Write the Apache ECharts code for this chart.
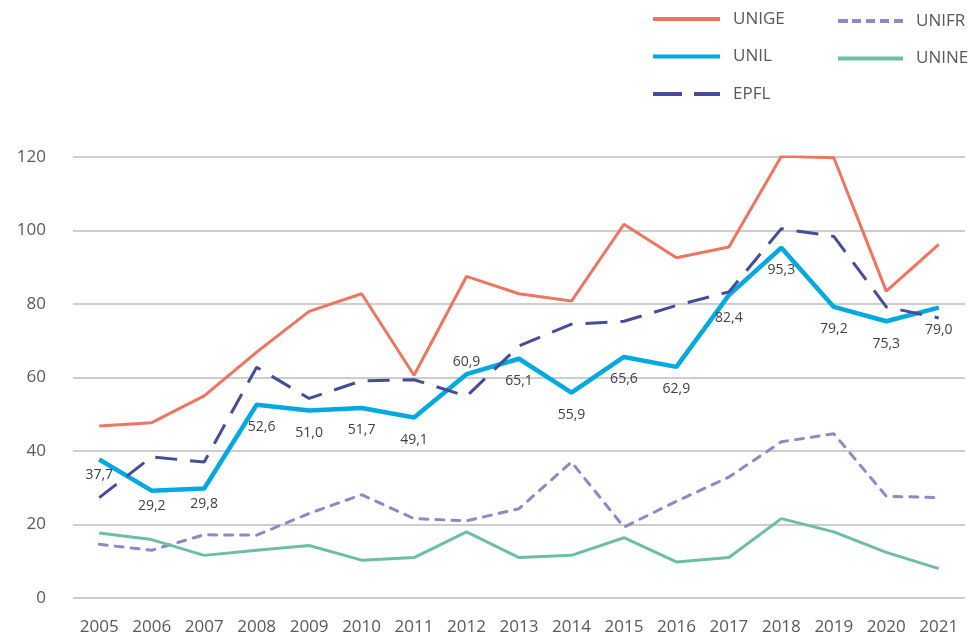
<!DOCTYPE html>
<html>
<head>
<meta charset="utf-8">
<script src="https://cdn.jsdelivr.net/npm/echarts@6/dist/echarts.min.js"></script>
<style>
html,body{margin:0;padding:0;background:#fff;}
#chart{width:971px;height:636px;}
</style>
</head>
<body>
<div id="chart"></div>
<script>
const years = ['2005','2006','2007','2008','2009','2010','2011','2012','2013','2014','2015','2016','2017','2018','2019','2020','2021'];
const yTicks = [0, 20, 40, 60, 80, 100, 120];
const unige = [46.8, 47.7, 55.0, 66.9, 78.0, 82.8, 60.6, 87.5, 82.8, 80.8, 101.7, 92.6, 95.5, 120.2, 119.8, 83.5, 96.2];
const unil  = [37.7, 29.2, 29.8, 52.6, 51.0, 51.7, 49.1, 60.9, 65.1, 55.9, 65.6, 62.9, 82.4, 95.3, 79.2, 75.3, 79.0];
const epfl  = [27.3, 38.4, 37.0, 62.8, 54.3, 59.1, 59.4, 54.9, 68.6, 74.5, 75.3, 79.6, 83.3, 100.5, 98.4, 79.2, 76.2];
const unifr = [14.6, 13.0, 17.2, 17.1, 23.0, 28.1, 21.6, 21.0, 24.3, 37.0, 19.3, 26.3, 32.9, 42.5, 44.7, 27.7, 27.3];
const unine = [17.7, 15.9, 11.6, 13.0, 14.3, 10.3, 11.0, 18.0, 11.0, 11.6, 16.4, 9.8, 11.0, 21.6, 18.0, 12.4, 8.0];

const FONT = '"Open Sans", "Noto Sans", sans-serif';
const C = {unige:'#EE7560', unil:'#00A9E0', epfl:'#474C9A', unifr:'#8E88C4', unine:'#6CBFA4'};

// legend line icons (drawn as paths)
const ICON_SOLID = 'path://M0,0H60V3H0Z';
const ICON_UNIFR = 'path://M0,0H10V3H0Z M14,0H23V3H14Z M28,0H37V3H28Z M42,0H51V3H42Z M56,0H65V3H56Z';
const ICON_EPFL  = 'path://M0,0H29V3H0Z M41,0H67V3H41Z';

const unilData = unil.map((v, i) => {
  const d = {value: v};
  if (years[i] === '2012') d.label = {position: 'top', distance: 5};
  else if (i <= 2) d.label = {distance: 8};
  else if (years[i] === '2008') d.label = {offset: [5, 0]};
  return d;
});

const chart = echarts.init(document.getElementById('chart'), null, {renderer:'canvas'});
const fmt = p => Number(p.value).toFixed(1).replace('.', ',');

const legendText = {fontSize: 17, color: '#595959', fontFamily: FONT, lineHeight: 20, padding: [0,0,0,8]};

chart.setOption({
  backgroundColor: '#ffffff',
  animation: false,
  textStyle: {fontFamily: FONT},
  legend: [
    {
      data: [
        {name: 'UNIGE', icon: ICON_SOLID, itemStyle: {color: C.unige}},
        {name: 'UNIL', icon: ICON_SOLID, itemStyle: {color: C.unil}},
        {name: 'EPFL', icon: ICON_EPFL, itemStyle: {color: C.epfl}}
      ],
      orient: 'vertical', left: 653, top: 9,
      itemWidth: 67, itemHeight: 4, itemGap: 17.5, padding: 0,
      symbolKeepAspect: false,
      textStyle: legendText
    },
    {
      data: [
        {name: 'UNIFR', icon: ICON_UNIFR, itemStyle: {color: C.unifr}},
        {name: 'UNINE', icon: ICON_SOLID, itemStyle: {color: C.unine}}
      ],
      orient: 'vertical', left: 838, top: 11,
      itemWidth: 65, itemHeight: 4, itemGap: 17.5, padding: 0,
      symbolKeepAspect: false,
      textStyle: legendText
    }
  ],
  grid: {left: 73, right: 6, top: 157, bottom: 38, containLabel: false},
  xAxis: {
    type: 'category', data: years, boundaryGap: true,
    axisLine: {show: false}, axisTick: {show: false},
    axisLabel: {fontSize: 17, color: '#595959', margin: 21, fontFamily: FONT, interval: 0}
  },
  yAxis: {
    type: 'value', min: yTicks[0], max: yTicks[yTicks.length-1], interval: 20,
    axisLine: {show: false}, axisTick: {show: false},
    axisLabel: {fontSize: 17, color: '#595959', margin: 27, fontFamily: FONT},
    splitLine: {lineStyle: {color: '#BDBDBD', width: 1.5}}
  },
  series: [
    {name: 'UNIGE', type: 'line', data: unige, symbol: 'none',
     lineStyle: {color: C.unige, width: 3}, itemStyle: {color: C.unige}},
    {name: 'UNIFR', type: 'line', data: unifr, symbol: 'none',
     lineStyle: {color: C.unifr, width: 3, type: [8, 8], cap: 'round'}, itemStyle: {color: C.unifr}},
    {name: 'UNINE', type: 'line', data: unine, symbol: 'none',
     lineStyle: {color: C.unine, width: 3}, itemStyle: {color: C.unine}},
    {name: 'UNIL', type: 'line', data: unilData, symbol: 'circle', symbolSize: 1, showSymbol: true,
     lineStyle: {color: C.unil, width: 4.5}, itemStyle: {color: C.unil},
     label: {show: true, position: 'bottom', distance: 15, formatter: fmt,
             fontSize: 14, color: '#404040', fontFamily: FONT}},
    {name: 'EPFL', type: 'line', data: epfl, symbol: 'none',
     lineStyle: {color: C.epfl, width: 3, type: [22, 13]}, itemStyle: {color: C.epfl}}
  ]
});
</script>
</body>
</html>
